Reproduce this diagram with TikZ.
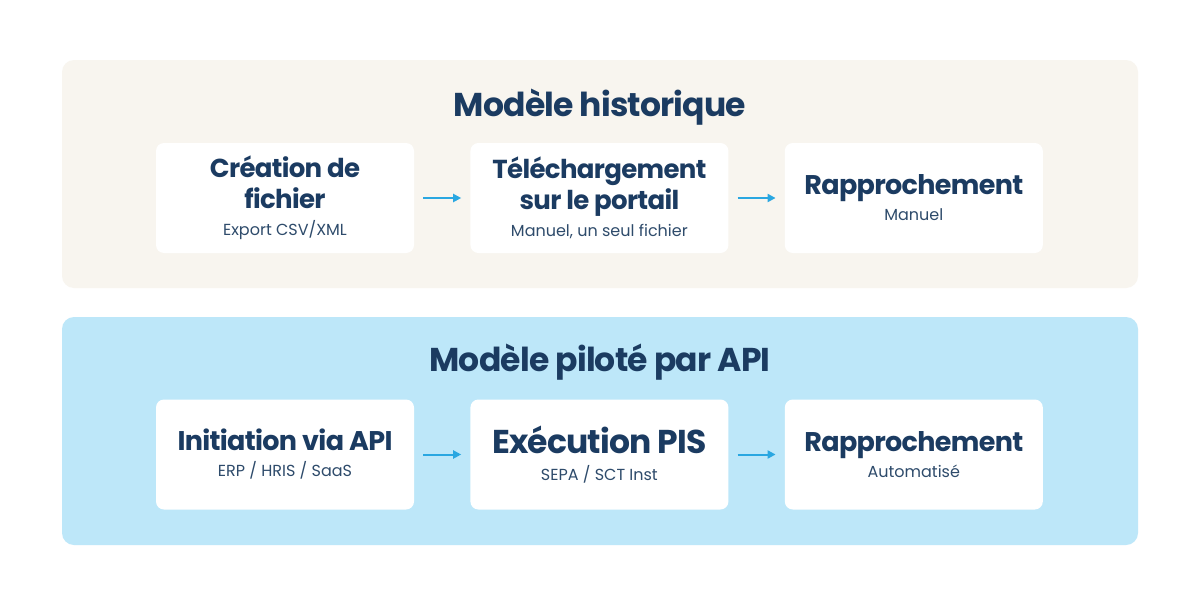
\documentclass[tikz,border=0pt]{standalone}
\usepackage{fontspec}
\setmainfont{Poppins}[BoldFeatures={LetterSpace=-2.5}]
\usetikzlibrary{arrows.meta, positioning}

\definecolor{navy}{HTML}{1B3B61}
\definecolor{subnavy}{HTML}{2E4B6B}
\definecolor{sand}{HTML}{F8F5EF}
\definecolor{sky}{HTML}{BDE7F9}
\definecolor{arrowblue}{HTML}{2AA7E1}

\newcommand{\cardsub}[1]{{\fontsize{16}{20}\selectfont\mdseries\color{subnavy}#1}}

\begin{document}
\begin{tikzpicture}[
  x=1pt, y=-1pt,
  panel/.style={rounded corners=12pt, inner sep=0pt, minimum width=1076pt, minimum height=228pt},
  heading/.style={text=navy, anchor=base, font=\fontsize{33}{38}\selectfont\bfseries},
  card/.style={fill=white, rounded corners=8pt, minimum width=258pt, minimum height=110pt,
    align=center, text=navy, inner sep=0pt, font=\fontsize{26}{31}\selectfont\bfseries},
  single/.style={font=\fontsize{27}{32}\selectfont\bfseries},
  flow/.style={-{Triangle[length=8pt,width=8pt]}, line width=2pt, arrowblue,
    shorten <=9pt, shorten >=9pt}
]
\useasboundingbox (0,0) rectangle (1200,605);
\fill[white] (0,0) rectangle (1200,605);

% historical model
\node[panel, fill=sand] (hist) at (600,174) {};
\node[heading] (histtitle) at (600,116) {Modèle historique};
\node[card] (crea) at (285,198) {Création de\\fichier\\[-4pt]\cardsub{Export CSV/XML}};
\node[card, right=56pt of crea] (upload) {Téléchargement\\sur le portail\\[-4pt]\cardsub{Manuel, un seul fichier}};
\node[card, single, right=56pt of upload] (recon) {Rapprochement\\[-6pt]\cardsub{Manuel}};

\draw[flow] (crea) -- (upload);
\draw[flow] (upload) -- (recon);

% API-driven model
\node[panel, fill=sky] (api) at (600,431) {};
\node[heading] (apititle) at (600,371) {Modèle piloté par API};
\node[card, single] (init) at (285,454.5) {Initiation via API\\[-6pt]\cardsub{ERP / HRIS / SaaS}};
\node[card, font=\fontsize{33}{32}\selectfont\bfseries, right=56pt of init] (exec) {Exécution PIS\\[-5pt]\cardsub{SEPA / SCT Inst}};
\node[card, single, right=56pt of exec] (autorecon) {Rapprochement\\[-6pt]\cardsub{Automatisé}};

\draw[flow] (init) -- (exec);
\draw[flow] (exec) -- (autorecon);
\end{tikzpicture}
\end{document}
